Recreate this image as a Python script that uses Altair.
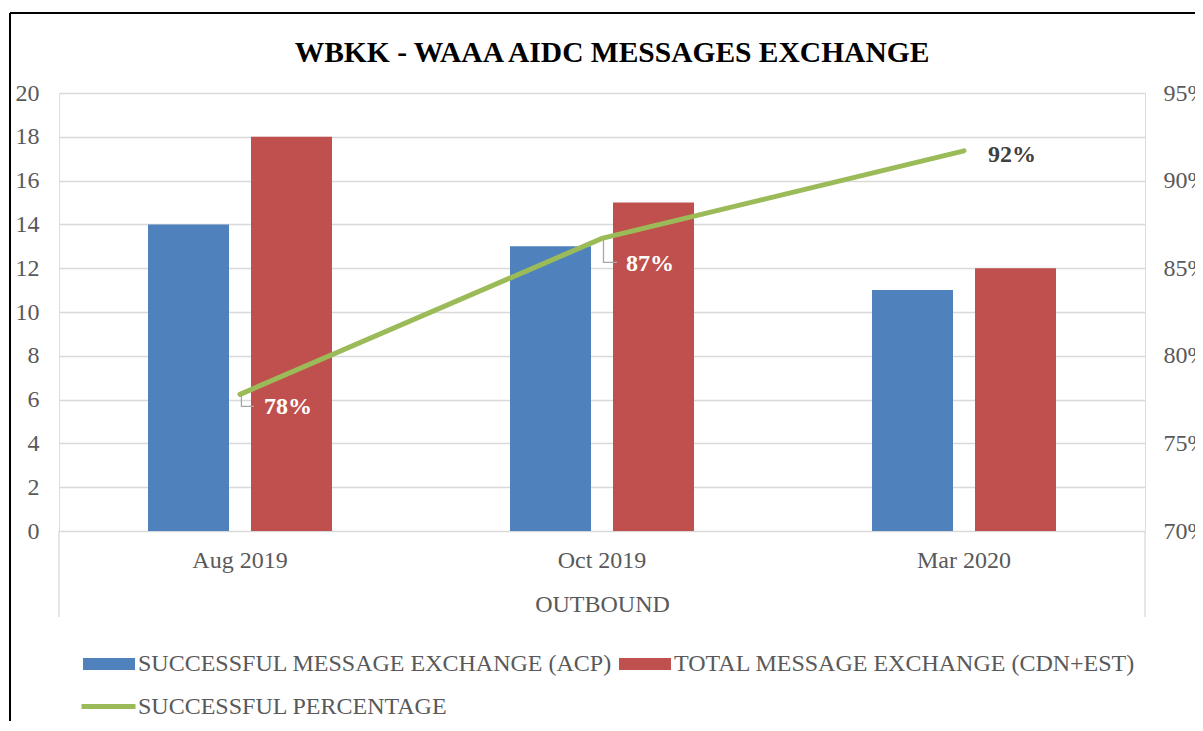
import altair as alt
import pandas as pd

# ---- data ----
months = ["Aug 2019", "Oct 2019", "Mar 2020"]
acp = [14, 13, 11]
total = [18, 15, 12]
pct = [0.778, 0.867, 0.917]
series = ["SUCCESSFUL MESSAGE EXCHANGE (ACP)", "TOTAL MESSAGE EXCHANGE (CDN+EST)"]
line_name = "SUCCESSFUL PERCENTAGE"
left_ticks = [0, 2, 4, 6, 8, 10, 12, 14, 16, 18, 20]
right_ticks = [0.70, 0.75, 0.80, 0.85, 0.90, 0.95]

bars_df = pd.DataFrame({
    "month": months * 2,
    "series": [series[0]] * 3 + [series[1]] * 3,
    "value": acp + total,
})
line_df = pd.DataFrame({"month": months, "pct": pct, "name": [line_name] * 3})

FONT = "Liberation Serif"
GRAY = "#595959"
GRID = "#d9d9d9"

X = alt.X(
    "month:N", sort=months,
    scale=alt.Scale(paddingInner=0, paddingOuter=0),
    axis=alt.Axis(title="OUTBOUND", labelAngle=0, domain=False, ticks=False,
                  labelPadding=17, titlePadding=20, labelFontSize=24,
                  titleFontSize=24, titleFontWeight="normal",
                  labelColor=GRAY, titleColor=GRAY, labelFont=FONT, titleFont=FONT),
)

Y_right = alt.Y(
    "pct:Q",
    scale=alt.Scale(domain=[0.70, 0.95], nice=False, zero=False),
    axis=alt.Axis(orient="right", values=right_ticks, format=".0%", title=None,
                  grid=False, domain=False, ticks=False, labelPadding=18,
                  labelFontSize=24, labelColor=GRAY, labelFont=FONT),
)

bars = alt.Chart(bars_df).mark_bar().encode(
    x=X,
    xOffset=alt.XOffset("series:N", sort=series,
                        scale=alt.Scale(paddingInner=0.2136, paddingOuter=0.864)),
    y=alt.Y("value:Q", scale=alt.Scale(domain=[0, 20], nice=False),
            axis=alt.Axis(values=left_ticks, title=None, domain=False, ticks=False,
                          grid=True, gridColor=GRID, gridWidth=1.3, labelPadding=20,
                          labelFontSize=24, labelColor=GRAY, labelFont=FONT)),
    color=alt.Color("series:N", scale=alt.Scale(domain=series, range=["#4f81bd", "#c0504d"]),
                    legend=alt.Legend(title=None, orient="none", legendX=23, legendY=544,
                                      direction="horizontal", columns=2, columnPadding=5,
                                      symbolType="M-1,-0.23H1V0.23H-1Z", symbolSize=2704,
                                      labelOffset=2, labelFontSize=24, labelColor=GRAY,
                                      labelFont=FONT, labelLimit=0)),
)

line = alt.Chart(line_df).mark_line(strokeWidth=5, strokeCap="round").encode(
    x=X, y=Y_right,
    stroke=alt.Stroke("name:N", scale=alt.Scale(domain=[line_name], range=["#9bbb59"]),
                      legend=alt.Legend(title=None, orient="none", legendX=20, legendY=584,
                                        symbolType="stroke", symbolStrokeWidth=5,
                                        symbolSize=2916, labelOffset=0, labelFontSize=24,
                                        labelColor=GRAY, labelFont=FONT, labelLimit=0)),
)


def label_layer(month, dy, color):
    return alt.Chart(line_df).transform_filter(alt.datum.month == month).mark_text(
        align="left", baseline="middle", dx=24, dy=dy, fontSize=24,
        fontWeight="bold", font=FONT, color=color,
    ).encode(x=X, y=Y_right, text=alt.Text("pct:Q", format=".0%"))


def leader_layer(month, path, size):
    return alt.Chart(line_df).transform_filter(alt.datum.month == month).mark_point(
        shape=path, size=size, filled=False, stroke="#a6a6a6", strokeWidth=1.3, opacity=1,
    ).encode(x=X, y=Y_right)


pct_layer = alt.layer(
    leader_layer("Aug 2019", "M0.1,0.1L0.1,0.86L1,0.86", 784),
    leader_layer("Oct 2019", "M0.1,0.1L0.1,1.6L1,1.6", 900),
    line,
    label_layer("Aug 2019", 13, "white"),
    label_layer("Oct 2019", 26, "white"),
    label_layer("Mar 2020", 4, "#404040"),
)

decor_src = alt.Data(values=[{"k": 0}])
sep_left = alt.Chart(decor_src).mark_rule(color=GRID, strokeWidth=1.3).encode(
    x=alt.value(0), y=alt.value(438), y2=alt.value(524))
sep_right = alt.Chart(decor_src).mark_rule(color=GRID, strokeWidth=1.3).encode(
    x=alt.value(1086), y=alt.value(438), y2=alt.value(524))
frame_left = alt.Chart(decor_src).mark_rule(color="black", strokeWidth=2).encode(
    x=alt.value(-49), y=alt.value(-80), y2=alt.value(700))
frame_top = alt.Chart(decor_src).mark_rule(color="black", strokeWidth=2).encode(
    x=alt.value(-49), x2=alt.value(1200), y=alt.value(-80))

chart = alt.layer(bars, pct_layer, sep_left, sep_right, frame_left, frame_top).resolve_scale(
    y="independent"
).properties(
    width=1086, height=438,
    title=alt.Title("WBKK - WAAA AIDC MESSAGES EXCHANGE", fontSize=29.5, font=FONT,
                    fontWeight="bold", color="black", anchor="middle", dx=10,
                    offset=-79, baseline="alphabetic"),
    autosize=alt.AutoSizeParams(type="none"),
    padding={"left": 51, "top": 85, "right": 50, "bottom": 190},
).configure_view(stroke=None).configure(font=FONT)

chart.save("out.html", embed_options={"renderer": "svg", "actions": False})
